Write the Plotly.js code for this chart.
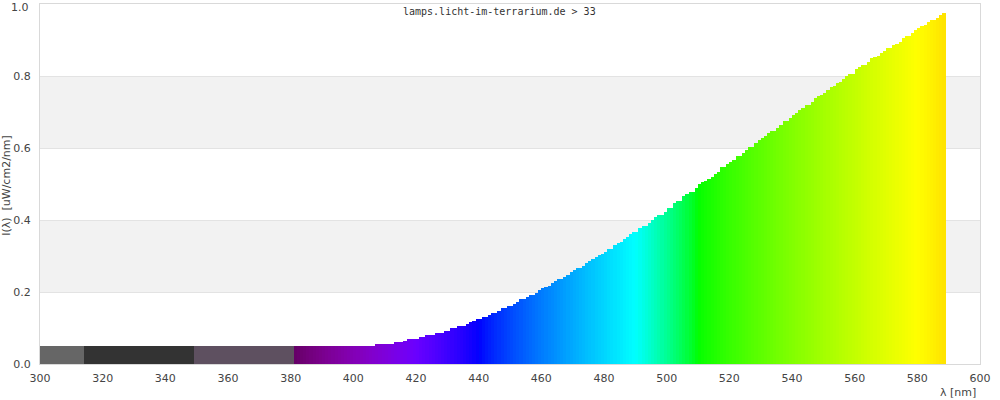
<!DOCTYPE html>
<html>
<head>
<meta charset="utf-8">
<script src="https://cdn.plot.ly/plotly-3.0.1.min.js"></script>
<style>html,body{margin:0;padding:0;background:#fff;}#chart{width:1000px;height:400px;}</style>
</head>
<body>
<div id="chart"></div>
<script>
// Wavelength (nm) — lower edge of each 1 nm bar
const wavelengths = [
300,301,302,303,304,305,306,307,308,309,310,311,312,313,314,315,316,317,318,319,
320,321,322,323,324,325,326,327,328,329,330,331,332,333,334,335,336,337,338,339,
340,341,342,343,344,345,346,347,348,349,350,351,352,353,354,355,356,357,358,359,
360,361,362,363,364,365,366,367,368,369,370,371,372,373,374,375,376,377,378,379,
380,381,382,383,384,385,386,387,388,389,390,391,392,393,394,395,396,397,398,399,
400,401,402,403,404,405,406,407,408,409,410,411,412,413,414,415,416,417,418,419,
420,421,422,423,424,425,426,427,428,429,430,431,432,433,434,435,436,437,438,439,
440,441,442,443,444,445,446,447,448,449,450,451,452,453,454,455,456,457,458,459,
460,461,462,463,464,465,466,467,468,469,470,471,472,473,474,475,476,477,478,479,
480,481,482,483,484,485,486,487,488,489,490,491,492,493,494,495,496,497,498,499,
500,501,502,503,504,505,506,507,508,509,510,511,512,513,514,515,516,517,518,519,
520,521,522,523,524,525,526,527,528,529,530,531,532,533,534,535,536,537,538,539,
540,541,542,543,544,545,546,547,548,549,550,551,552,553,554,555,556,557,558,559,
560,561,562,563,564,565,566,567,568,569,570,571,572,573,574,575,576,577,578,579,
580,581,582,583,584,585,586,587,588,589
];

// Irradiance I(λ) [uW/cm2/nm]
const intensity = [
0.05,0.05,0.05,0.05,0.05,0.05,0.05,0.05,0.05,0.05,0.05,0.05,0.05,0.05,0.05,0.05,0.05,0.05,0.05,0.05,
0.05,0.05,0.05,0.05,0.05,0.05,0.05,0.05,0.05,0.05,0.05,0.05,0.05,0.05,0.05,0.05,0.05,0.05,0.05,0.05,
0.05,0.05,0.05,0.05,0.05,0.05,0.05,0.05,0.05,0.05,0.05,0.05,0.05,0.05,0.05,0.05,0.05,0.05,0.05,0.05,
0.05,0.05,0.05,0.05,0.05,0.05,0.05,0.05,0.05,0.05,0.05,0.05,0.05,0.05,0.05,0.05,0.05,0.05,0.05,0.05,
0.05,0.05,0.05,0.05,0.05,0.05,0.05,0.05,0.05,0.05,0.05,0.05,0.05,0.05,0.05,0.05,0.05,0.05,0.05,0.05,
0.05,0.05,0.05,0.05,0.05,0.05,0.05,0.056,0.056,0.056,0.056,0.056,0.056,0.061,0.061,0.061,0.065,0.069,0.069,0.069,
0.069,0.075,0.075,0.081,0.081,0.081,0.086,0.086,0.086,0.092,0.092,0.100,0.100,0.106,0.106,0.106,0.111,0.117,0.120,0.125,
0.125,0.130,0.130,0.136,0.142,0.142,0.148,0.155,0.155,0.161,0.161,0.167,0.173,0.180,0.180,0.186,0.193,0.193,0.198,0.206,
0.211,0.215,0.218,0.224,0.231,0.237,0.237,0.243,0.248,0.255,0.261,0.268,0.268,0.273,0.280,0.286,0.293,0.298,0.304,0.306,
0.312,0.319,0.319,0.330,0.336,0.340,0.346,0.354,0.361,0.368,0.368,0.377,0.383,0.383,0.391,0.400,0.408,0.415,0.415,0.423,
0.433,0.433,0.446,0.454,0.454,0.467,0.473,0.479,0.479,0.488,0.499,0.505,0.508,0.514,0.520,0.528,0.533,0.548,0.548,0.555,
0.560,0.567,0.578,0.578,0.585,0.594,0.602,0.602,0.615,0.621,0.627,0.634,0.643,0.648,0.648,0.656,0.663,0.676,0.676,0.684,
0.692,0.698,0.706,0.711,0.719,0.719,0.729,0.738,0.744,0.748,0.754,0.761,0.769,0.773,0.781,0.783,0.792,0.800,0.806,0.806,
0.819,0.825,0.831,0.831,0.840,0.849,0.852,0.856,0.863,0.870,0.879,0.879,0.886,0.890,0.894,0.905,0.911,0.911,0.919,0.927,
0.932,0.939,0.942,0.951,0.955,0.955,0.960,0.969,0.976,0.981
];

// bar width in nm (the last sample is a partial bar)
const barWidths = wavelengths.map(w => (w === 589 ? 0.25 : 1));

const xTickVals = [300,320,340,360,380,400,420,440,460,480,500,520,540,560,580,600];
const yTickVals = [0.0,0.2,0.4,0.6,0.8];
const yTickText = ["0.0","0.2","0.4","0.6","0.8"];

// colour of a wavelength (UV shown as grey blocks, visible range as spectrum)
function wlColor(nm) {
  if (nm < 314) return '#666666';
  if (nm < 349) return '#333333';
  if (nm < 381) return '#5e5060';
  const w = nm + 0.5;
  let r = 0, g = 0, b = 0;
  if (w < 440) { r = -(w - 440) / 60; b = 1; }
  else if (w < 490) { g = (w - 440) / 50; b = 1; }
  else if (w < 510) { g = 1; b = -(w - 510) / 20; }
  else if (w < 580) { r = (w - 510) / 70; g = 1; }
  else if (w < 645) { r = 1; g = -(w - 645) / 65; }
  else { r = 1; }
  let f = 1;
  if (w < 420) f = 0.3 + 0.7 * (w - 380) / 40;
  const c = v => Math.round(255 * Math.pow(Math.max(0, v * f), 0.8));
  return 'rgb(' + c(r) + ',' + c(g) + ',' + c(b) + ')';
}

const trace = {
  type: 'bar',
  x: wavelengths,
  y: intensity,
  width: barWidths,
  offset: 0,
  marker: { color: wavelengths.map(wlColor), line: { width: 0 } },
  hoverinfo: 'skip'
};

const tickFont = { family: 'DejaVu Sans, sans-serif', size: 11, color: '#444' };

const layout = {
  width: 1000, height: 400,
  margin: { l: 40, r: 20, t: 4, b: 36 },
  paper_bgcolor: '#ffffff', plot_bgcolor: '#ffffff',
  bargap: 0,
  showlegend: false,
  xaxis: {
    range: [300, 600], tickmode: 'array', tickvals: xTickVals,
    ticks: '', showgrid: false, zeroline: false,
    showline: true, linecolor: '#d9d9d9', linewidth: 1, mirror: true,
    tickfont: tickFont, ticklabelstandoff: 4
  },
  yaxis: {
    range: [0, 1], tickmode: 'array', tickvals: yTickVals, ticktext: yTickText,
    ticks: '', showgrid: true, gridcolor: '#e3e3e3', gridwidth: 1, zeroline: false,
    showline: true, linecolor: '#d9d9d9', linewidth: 1, mirror: true,
    tickfont: tickFont, ticklabelstandoff: 6
  },
  shapes: [
    { type: 'rect', xref: 'paper', yref: 'y', x0: 0, x1: 1, y0: 0.2, y1: 0.4, fillcolor: '#f2f2f2', line: { width: 0 }, layer: 'below' },
    { type: 'rect', xref: 'paper', yref: 'y', x0: 0, x1: 1, y0: 0.6, y1: 0.8, fillcolor: '#f2f2f2', line: { width: 0 }, layer: 'below' }
  ],
  annotations: [
    { text: '1.0', xref: 'paper', yref: 'paper', x: -0.0106, y: 1.011,
      xanchor: 'right', yanchor: 'top', showarrow: false, borderpad: 0,
      font: tickFont },
    { text: 'lamps.licht-im-terrarium.de > 33', xref: 'paper', yref: 'paper', x: 0.489, y: 0.978,
      xanchor: 'center', yanchor: 'middle', showarrow: false,
      font: { family: 'DejaVu Sans Mono, monospace', size: 10, color: '#333' } },
    { text: 'I(λ)\u00a0 [uW/cm2/nm]', xref: 'paper', yref: 'paper', x: -0.0351, y: 0.495,
      xanchor: 'center', yanchor: 'middle', textangle: -90, showarrow: false,
      font: { family: 'DejaVu Sans, sans-serif', size: 11, color: '#444' } },
    { text: 'λ [nm]', xref: 'paper', yref: 'paper', x: 0.998, y: -0.08,
      xanchor: 'right', yanchor: 'middle', showarrow: false,
      font: { family: 'DejaVu Sans, sans-serif', size: 11, color: '#444' } }
  ]
};

Plotly.newPlot('chart', [trace], layout, { staticPlot: true, displayModeBar: false });
</script>
</body>
</html>
